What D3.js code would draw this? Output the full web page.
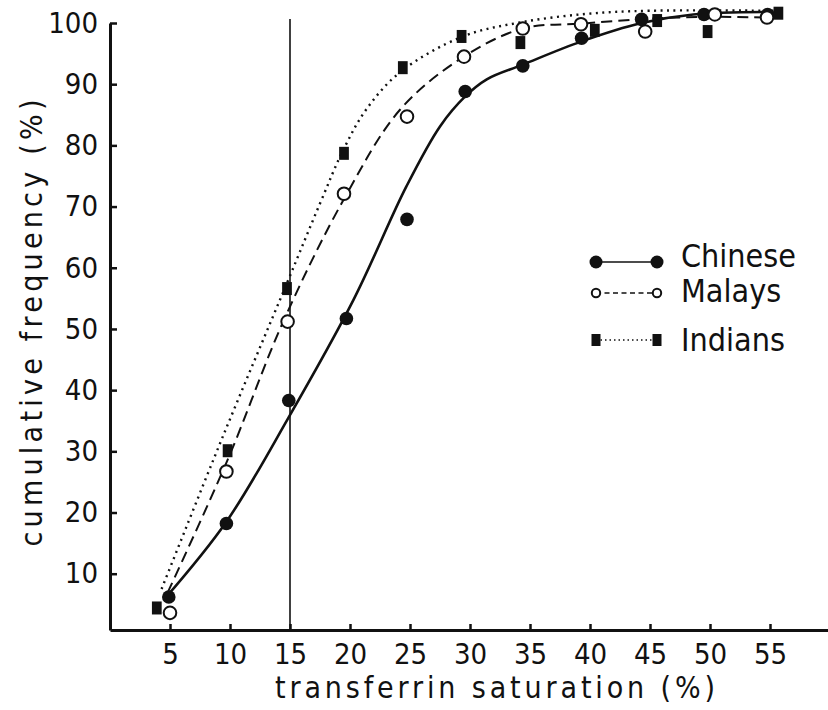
<!DOCTYPE html>
<html>
<head>
<meta charset="utf-8">
<script src="https://cdnjs.cloudflare.com/ajax/libs/d3/7.8.5/d3.min.js"></script>
<style>
  body { margin: 0; background: #fff; }
  svg { display: block; }
  text { font-family: "DejaVu Sans Condensed", "DejaVu Sans", sans-serif; fill: #111; }
</style>
</head>
<body>
<svg id="chart" width="828" height="710"></svg>
<script>
// tick values
var xTicks = [5, 10, 15, 20, 25, 30, 35, 40, 45, 50, 55];
var yTicks = [10, 20, 30, 40, 50, 60, 70, 80, 90, 100];
var cutoff = 15;

// measured points (x = transferrin saturation %, y = cumulative frequency %)
var chineseX = [4.9, 9.7, 14.9, 19.7, 24.75, 29.6, 34.4, 39.3, 44.3, 49.5, 54.8];
var chineseY = [6.2, 18.2, 38.3, 51.7, 67.9, 88.8, 93.0, 97.5, 100.6, 101.4, 101.4];
var malaysX = [5.0, 9.7, 14.8, 19.5, 24.75, 29.5, 34.4, 39.25, 44.6, 50.4, 54.75];
var malaysY = [3.6, 26.7, 51.2, 72.1, 84.7, 94.5, 99.1, 99.8, 98.6, 101.4, 100.9];
var indiansX = [3.9, 9.8, 14.75, 19.5, 24.4, 29.3, 34.2, 40.4, 45.6, 49.8, 55.7];
var indiansY = [4.4, 30.1, 56.6, 78.7, 92.7, 97.8, 96.8, 98.8, 100.4, 98.6, 101.6];

// fitted curves as drawn in the figure
var chineseFit = [[4.6, 6.0], [9.7, 18.5], [14.9, 35.6], [20.3, 54.8], [24.7, 73.3], [27.5, 83.1],
  [29.6, 88.0], [31.4, 90.8], [34.4, 93.2], [39.3, 97.0], [44.3, 100.0], [48.6, 101.4], [55.3, 101.8]];
var malaysFit = [[4.8, 6.9], [9.8, 28.6], [14.5, 51.5], [19.6, 71.6], [24.2, 85.9], [29.4, 94.4],
  [34.4, 99.1], [39.3, 99.9], [45.0, 100.7], [50.0, 101.0], [54.75, 100.9]];
var indiansFit = [[4.3, 7.5], [9.4, 32.4], [14.75, 57.5], [17.5, 70.5], [19.5, 79.5], [21.4, 86.0],
  [24.2, 92.0], [29.4, 97.8], [34.2, 100.1], [39.75, 101.5], [45.0, 102.0], [55.5, 102.0]];

var names = ["Chinese", "Malays", "Indians"];

var svg = d3.select("#chart");
var x = d3.scaleLinear().domain([0, 60]).range([110, 830]);
var y = d3.scaleLinear().domain([0.8, 100]).range([630, 23]);

function zip(xs, ys) {
  return xs.map(function(v, i) { return [v, ys[i]]; });
}

var series = [
  {name: names[0], points: zip(chineseX, chineseY), fit: chineseFit, dash: null, width: 2.6},
  {name: names[1], points: zip(malaysX, malaysY), fit: malaysFit, dash: "11,6", width: 2},
  {name: names[2], points: zip(indiansX, indiansY), fit: indiansFit, dash: "2,4.5", width: 2.4}
];

// axes
var xAxis = svg.append("g")
    .attr("transform", "translate(0," + y.range()[0] + ")")
    .call(d3.axisBottom(x).tickValues(xTicks).tickSizeInner(-6).tickSizeOuter(0).tickPadding(13));
var yAxis = svg.append("g")
    .attr("transform", "translate(" + x(0) + ",0)")
    .call(d3.axisLeft(y).tickValues(yTicks).tickSizeInner(-7).tickSizeOuter(0).tickPadding(12));

[xAxis, yAxis].forEach(function(a) {
  a.select(".domain").attr("stroke", "#111").attr("stroke-width", 3);
  a.selectAll(".tick line").attr("stroke", "#111").attr("stroke-width", 2.5);
  a.selectAll(".tick text").attr("font-size", 29).attr("fill", "#111")
    .style("font-family", "'DejaVu Sans Condensed', 'DejaVu Sans', sans-serif");
});

// axis titles
svg.append("text")
    .attr("x", 495).attr("y", 698)
    .attr("text-anchor", "middle")
    .attr("font-size", 30)
    .attr("textLength", 440).attr("lengthAdjust", "spacing")
    .text("transferrin  saturation  (%)");
svg.append("text")
    .attr("transform", "translate(42,323) rotate(-90)")
    .attr("text-anchor", "middle")
    .attr("font-size", 30)
    .attr("textLength", 447).attr("lengthAdjust", "spacing")
    .text("cumulative  frequency  (%)");

// 15% cut-off line
svg.append("line")
    .attr("x1", x(cutoff)).attr("x2", x(cutoff))
    .attr("y1", 19).attr("y2", y.range()[0])
    .attr("stroke", "#111").attr("stroke-width", 1.6);

// fitted curves
var line = d3.line()
    .x(function(d) { return x(d[0]); })
    .y(function(d) { return y(d[1]); })
    .curve(d3.curveCatmullRom.alpha(0.5));

svg.selectAll(".fit").data(series).enter()
  .append("path")
    .attr("class", "fit")
    .attr("d", function(d) { return line(d.fit); })
    .attr("fill", "none")
    .attr("stroke", "#111")
    .attr("stroke-width", function(d) { return d.width; })
    .attr("stroke-dasharray", function(d) { return d.dash; });

// markers
function drawMarker(sel, kind, size) {
  if (kind === 0) {
    sel.append("circle").attr("r", size).attr("fill", "#111");
  } else if (kind === 1) {
    sel.append("circle").attr("r", size).attr("fill", "#fff")
      .attr("stroke", "#111").attr("stroke-width", 2);
  } else {
    sel.append("rect").attr("x", -size * 0.75).attr("y", -size)
      .attr("width", size * 1.5).attr("height", size * 2).attr("fill", "#111");
  }
}

var markerSize = [6.8, 6.3, 6.5];
series.forEach(function(s, k) {
  svg.append("g").selectAll("g").data(s.points).enter()
    .append("g")
      .attr("transform", function(d) { return "translate(" + x(d[0]) + "," + y(d[1]) + ")"; })
      .each(function() { drawMarker(d3.select(this), k, markerSize[k]); });
});

// legend
var legendY = [262, 293, 340];
var legendText = [267, 302, 351];
var legendDash = [null, "5,3.5", "1.5,3"];
var legendMarker = [6.5, 4.2, 6];
var legend = svg.append("g");
series.forEach(function(s, k) {
  legend.append("line")
      .attr("x1", 596).attr("x2", 657)
      .attr("y1", legendY[k]).attr("y2", legendY[k])
      .attr("stroke", "#111").attr("stroke-width", 1.6)
      .attr("stroke-dasharray", legendDash[k]);
  [596, 657].forEach(function(px) {
    var g = legend.append("g").attr("transform", "translate(" + px + "," + legendY[k] + ")");
    drawMarker(g, k, legendMarker[k]);
  });
  legend.append("text")
      .attr("x", 681).attr("y", legendText[k])
      .attr("font-size", 32)
      .text(s.name);
});
</script>
</body>
</html>
